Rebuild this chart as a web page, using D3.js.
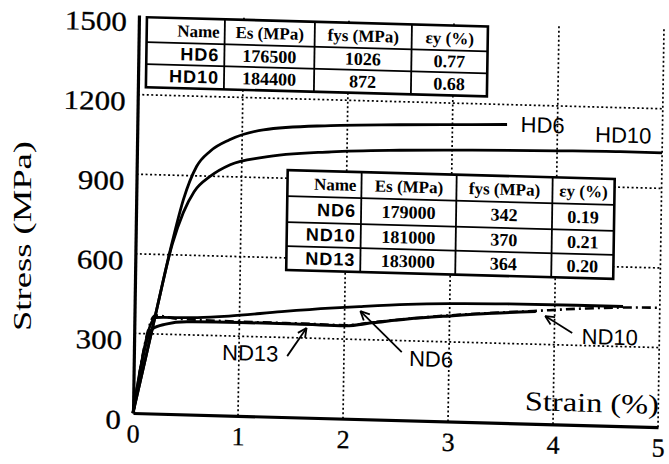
<!DOCTYPE html>
<html><head><meta charset="utf-8">
<script src="https://cdn.jsdelivr.net/npm/d3@7"></script>
<style>body{margin:0;background:#fff}svg{display:block}</style>
</head><body>
<script>
// ---- data ----
const xTicks = [0,1,2,3,4,5];
const yTicks = [0,300,600,900,1200,1500];
const xGrid = [1,2,3,4,5];
const yGrid = [300,600,900,1200];

const hd6Strain = [0,0.2,0.35,0.45,0.57,0.7,0.88,1.2,1.84,2.5,3.19,3.52];
const hd6Stress = [0,372,650,810,935,995,1039,1080,1103,1113,1121,1125];
const hd10Strain = [0,0.2,0.35,0.45,0.55,0.7,0.89,1.2,1.85,2.5,3.19,4.0,4.6,5.0];
const hd10Stress = [0,372,640,760,840,899,945,976,1004,1017,1025,1031,1034,1034];
const nd6Strain = [0,0.2,0.6,0.9,1.4,1.86,2.14,2.6,3.0,3.55,4.2,4.65];
const nd6Stress = [0,362,366,375,397,415,424,437,444,449,451,451];
const nd13Strain = [0,0.17,0.3,0.5,1.0,1.54,2.0,2.28,2.6,3.0,3.4,3.82];
const nd13Stress = [0,318,338,349,352,352,350,365,382,398,412,423];
const nd10Strain = [0,0.2,0.4,1.0,1.6,2.0,2.3,3.0,3.8,4.3,4.7,5.0];
const nd10Stress = [0,370,360,355,354,352,368,400,425,440,448,450];

const tableHeaders = ["Name","Es (MPa)","fys (MPa)","εy (%)"];
const hdNames = ["HD6","HD10"];
const hdEs = ["176500","184400"];
const hdFys = ["1026","872"];
const hdEy = ["0.77","0.68"];
const ndNames = ["ND6","ND10","ND13"];
const ndEs = ["179000","181000","183000"];
const ndFys = ["342","370","364"];
const ndEy = ["0.19","0.21","0.20"];

// ---- chart ----
const W = 669, H = 464;
const svg = d3.select("body").append("svg").attr("width", W).attr("height", H);
svg.append("rect").attr("width", W).attr("height", H).attr("fill", "#fff");

const x = d3.scaleLinear().domain([0,5]).range([0,525]);
const y = d3.scaleLinear().domain([0,1500]).range([0,-398]);

// scanned page is slightly skewed
const g = svg.append("g").attr("transform", "matrix(1,0.027,-0.015,1,133,413)");

// grid
g.selectAll(".vg").data(xGrid).join("line")
  .attr("x1", d => x(d)).attr("x2", d => x(d)).attr("y1", y(0)).attr("y2", y(1500))
  .attr("stroke", "#000").attr("stroke-width", 1.7).attr("stroke-dasharray", "2,2.5");
g.selectAll(".hg").data(yGrid).join("line")
  .attr("x1", x(0)).attr("x2", x(5)).attr("y1", d => y(d)).attr("y2", d => y(d))
  .attr("stroke", "#000").attr("stroke-width", 1.7).attr("stroke-dasharray", "2,2.5");

// tables
function drawTable(x0, y0, colW, rowH, rows) {
  const t = g.append("g");
  const totW = d3.sum(colW), totH = d3.sum(rowH);
  t.append("rect").attr("x", x0).attr("y", y0).attr("width", totW).attr("height", totH)
    .attr("fill", "#fff").attr("stroke", "#000").attr("stroke-width", 2.6);
  let cx = x0;
  colW.slice(0, -1).forEach(w => { cx += w;
    t.append("line").attr("x1", cx).attr("x2", cx).attr("y1", y0).attr("y2", y0 + totH)
      .attr("stroke", "#000").attr("stroke-width", 1.8); });
  let cy = y0;
  rowH.slice(0, -1).forEach(h => { cy += h;
    t.append("line").attr("x1", x0).attr("x2", x0 + totW).attr("y1", cy).attr("y2", cy)
      .attr("stroke", "#000").attr("stroke-width", 1.8); });
  cy = y0;
  rows.forEach((row, ri) => {
    let cx2 = x0;
    row.forEach((txt, ci) => {
      const w = colW[ci];
      const isName = ci === 0;
      const header = ri === 0;
      t.append("text")
        .attr("x", isName ? cx2 + w - 5 : cx2 + w / 2)
        .attr("y", cy + rowH[ri] / 2 + 6)
        .attr("text-anchor", isName ? "end" : "middle")
        .attr("font-family", (isName && !header) ? "Liberation Sans, Arial, sans-serif" : "Liberation Serif, Times New Roman, serif")
        .attr("font-weight", "bold")
        .attr("font-size", header ? 17 : 18)
        .attr("letter-spacing", (isName && !header) ? 1 : 0)
        .text(txt);
      cx2 += w;
    });
    cy += rowH[ri];
  });
}
drawTable(8, -396, [78,90,97,76], [25,22,23],
  [tableHeaders].concat(hdNames.map((n, i) => [n, hdEs[i], hdFys[i], hdEy[i]])));
drawTable(151, -247, [74,95,96,62], [26,26,24,24],
  [tableHeaders].concat(ndNames.map((n, i) => [n, ndEs[i], ndFys[i], ndEy[i]])));

// curves
const line = d3.line().x(d => x(d[0])).y(d => y(d[1])).curve(d3.curveMonotoneX);
const zip = (a, b) => a.map((v, i) => [v, b[i]]);
const curves = [
  {d: zip(nd10Strain, nd10Stress), dash: "9,4,2,4", w: 2.6},
  {d: zip(nd13Strain, nd13Stress), dash: null, w: 3},
  {d: zip(nd6Strain, nd6Stress), dash: null, w: 2.8},
  {d: zip(hd10Strain, hd10Stress), dash: null, w: 2.8},
  {d: zip(hd6Strain, hd6Stress), dash: null, w: 2.8}
];
g.selectAll(".curve").data(curves).join("path")
  .attr("d", c => line(c.d)).attr("fill", "none").attr("stroke", "#000")
  .attr("stroke-width", c => c.w).attr("stroke-dasharray", c => c.dash)
  .attr("stroke-linejoin", "round");

// labels
const labFont = "Liberation Sans, Arial, sans-serif";
const labels = [
  {t: "HD6", s: 3.65, v: 1098},
  {t: "HD10", s: 4.36, v: 1068},
  {t: "ND13", s: 0.84, v: 209},
  {t: "ND6", s: 2.62, v: 205},
  {t: "ND10", s: 4.26, v: 306}
];
g.selectAll(".lab").data(labels).join("text")
  .attr("x", d => x(d.s)).attr("y", d => y(d.v))
  .attr("font-family", labFont).attr("font-size", 22).text(d => d.t);

// arrows (from label to curve)
const arrows = [
  {s0: 1.46, v0: 230, s1: 1.64, v1: 338},
  {s0: 2.55, v0: 257, s1: 2.15, v1: 407},
  {s0: 4.17, v0: 346, s1: 3.91, v1: 407}
];
arrows.forEach(a => {
  const x0 = x(a.s0), y0 = y(a.v0), x1 = x(a.s1), y1 = y(a.v1);
  const ang = Math.atan2(y1 - y0, x1 - x0);
  g.append("line").attr("x1", x0).attr("y1", y0).attr("x2", x1).attr("y2", y1)
    .attr("stroke", "#000").attr("stroke-width", 1.8);
  [0.45, -0.45].forEach(da => {
    g.append("line").attr("x1", x1).attr("y1", y1)
      .attr("x2", x1 - 10 * Math.cos(ang + da)).attr("y2", y1 - 10 * Math.sin(ang + da))
      .attr("stroke", "#000").attr("stroke-width", 1.8);
  });
});

// axes
const yAxis = d3.axisLeft(y).tickValues(yTicks).tickSize(0).tickSizeOuter(0).tickPadding(12).tickFormat(d3.format("d"));
const ya = g.append("g").call(yAxis);
ya.select(".domain").attr("stroke-width", 3.2);
ya.selectAll("text").attr("font-family", "Liberation Serif, Times New Roman, serif")
  .attr("font-size", 27).attr("y", 7).attr("fill", "#000")
  .attr("stroke", "#000").attr("stroke-width", 0.3)
  .attr("textLength", d => String(d).length * 15.5).attr("lengthAdjust", "spacingAndGlyphs");

const xAxis = d3.axisBottom(x).tickValues(xTicks).tickSize(0).tickSizeOuter(0).tickPadding(11).tickFormat(d3.format("d"));
const xa = g.append("g").call(xAxis);
xa.select(".domain").attr("stroke-width", 3.2);
xa.selectAll("text").attr("font-family", "Liberation Serif, Times New Roman, serif")
  .attr("font-size", 26).attr("fill", "#000").attr("stroke", "#000").attr("stroke-width", 0.3);

g.append("text").attr("x", x(3.73)).attr("y", y(51))
  .attr("font-family", "Liberation Serif, Times New Roman, serif").attr("font-size", 27)
  .attr("textLength", 134).attr("lengthAdjust", "spacingAndGlyphs").text("Strain (%)");

svg.append("text").attr("transform", "translate(31,236) rotate(-90)")
  .attr("text-anchor", "middle")
  .attr("font-family", "Liberation Serif, Times New Roman, serif").attr("font-size", 26)
  .attr("textLength", 190).attr("lengthAdjust", "spacingAndGlyphs").text("Stress (MPa)");
</script>
</body></html>
